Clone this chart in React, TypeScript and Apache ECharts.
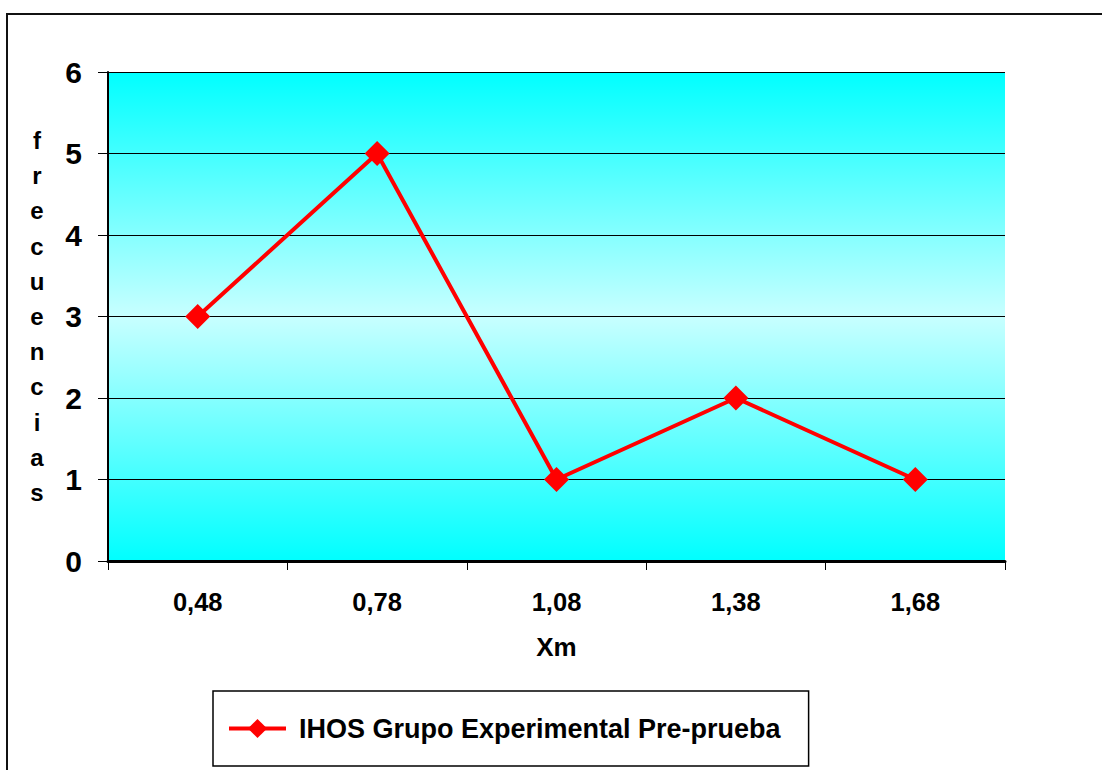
import React, { useEffect, useRef } from "react";
import * as echarts from "echarts";

const categories = ["0,48", "0,78", "1,08", "1,38", "1,68"];
const frecuencias = [3, 5, 1, 2, 1];
const seriesName = "IHOS Grupo Experimental Pre-prueba";
const yAxisLetters = "frecuencias".split("");
const xAxisTitle = "Xm";

export default function App() {
  const ref = useRef<HTMLDivElement>(null);
  useEffect(() => {
    if (!ref.current) return;
    const chart = echarts.init(ref.current, null, { renderer: "svg" });
    const font = "Arial, 'Liberation Sans', sans-serif";
    chart.setOption({
      animation: false,
      backgroundColor: "#ffffff",
      graphic: [
        {
          type: "rect",
          shape: { x: 7, y: 14, width: 1110, height: 770 },
          style: { fill: "none", stroke: "#111", lineWidth: 2 },
          silent: true,
        },
      ],
      grid: {
        left: 108,
        right: 97,
        top: 72,
        bottom: 209,
        show: true,
        borderWidth: 0,
        backgroundColor: new echarts.graphic.LinearGradient(0, 0, 0, 1, [
          { offset: 0, color: "#00FFFF" },
          { offset: 0.5, color: "#C8FFFF" },
          { offset: 1, color: "#00FFFF" },
        ]),
      },
      legend: {
        show: true,
        left: 213,
        top: 691,
        orient: "horizontal",
        borderColor: "#000",
        borderWidth: 1.5,
        padding: [24, 28, 24, 14],
        itemWidth: 57,
        itemHeight: 24,
        itemGap: 10,
        lineStyle: { width: 4, color: "#FF0000" },
        textStyle: {
          fontFamily: font,
          fontWeight: "bold",
          fontSize: 27,
          color: "#000",
          padding: [0, 0, 0, 8],
        },
        data: [seriesName],
      },
      xAxis: {
        type: "category",
        data: categories,
        boundaryGap: true,
        name: xAxisTitle,
        nameLocation: "middle",
        nameGap: 73,
        nameTextStyle: { fontFamily: font, fontWeight: "bold", fontSize: 26, color: "#000" },
        axisLine: { show: true, lineStyle: { color: "#000", width: 3 } },
        axisTick: { show: true, inside: false, length: 9, lineStyle: { color: "#000", width: 1 } },
        axisLabel: { margin: 28, fontFamily: font, fontWeight: "bold", fontSize: 25.5, color: "#000" },
        splitLine: { show: false },
      },
      yAxis: {
        type: "value",
        min: 0,
        max: 6,
        interval: 1,
        name: yAxisLetters.join("\n"),
        nameLocation: "middle",
        nameRotate: 0,
        nameGap: 71,
        nameTextStyle: {
          fontFamily: font,
          fontWeight: "bold",
          fontSize: 24,
          lineHeight: 35.2,
          color: "#000",
          align: "center",
        },
        axisLine: { show: true, lineStyle: { color: "#000", width: 2 } },
        axisTick: { show: true, inside: false, length: 10, lineStyle: { color: "#000", width: 1 } },
        axisLabel: { margin: 26, fontFamily: font, fontWeight: "bold", fontSize: 30, color: "#000" },
        splitLine: { show: true, lineStyle: { color: "#000", width: 1 } },
      },
      series: [
        {
          name: seriesName,
          type: "line",
          data: frecuencias,
          symbol: "diamond",
          symbolSize: 25,
          lineStyle: { color: "#FF0000", width: 4 },
          itemStyle: { color: "#FF0000" },
        },
      ],
    });
    return () => chart.dispose();
  }, []);
  return (
    <div
      ref={ref}
      style={{ position: "fixed", left: 0, top: 0, width: 1102, height: 770 }}
    />
  );
}
